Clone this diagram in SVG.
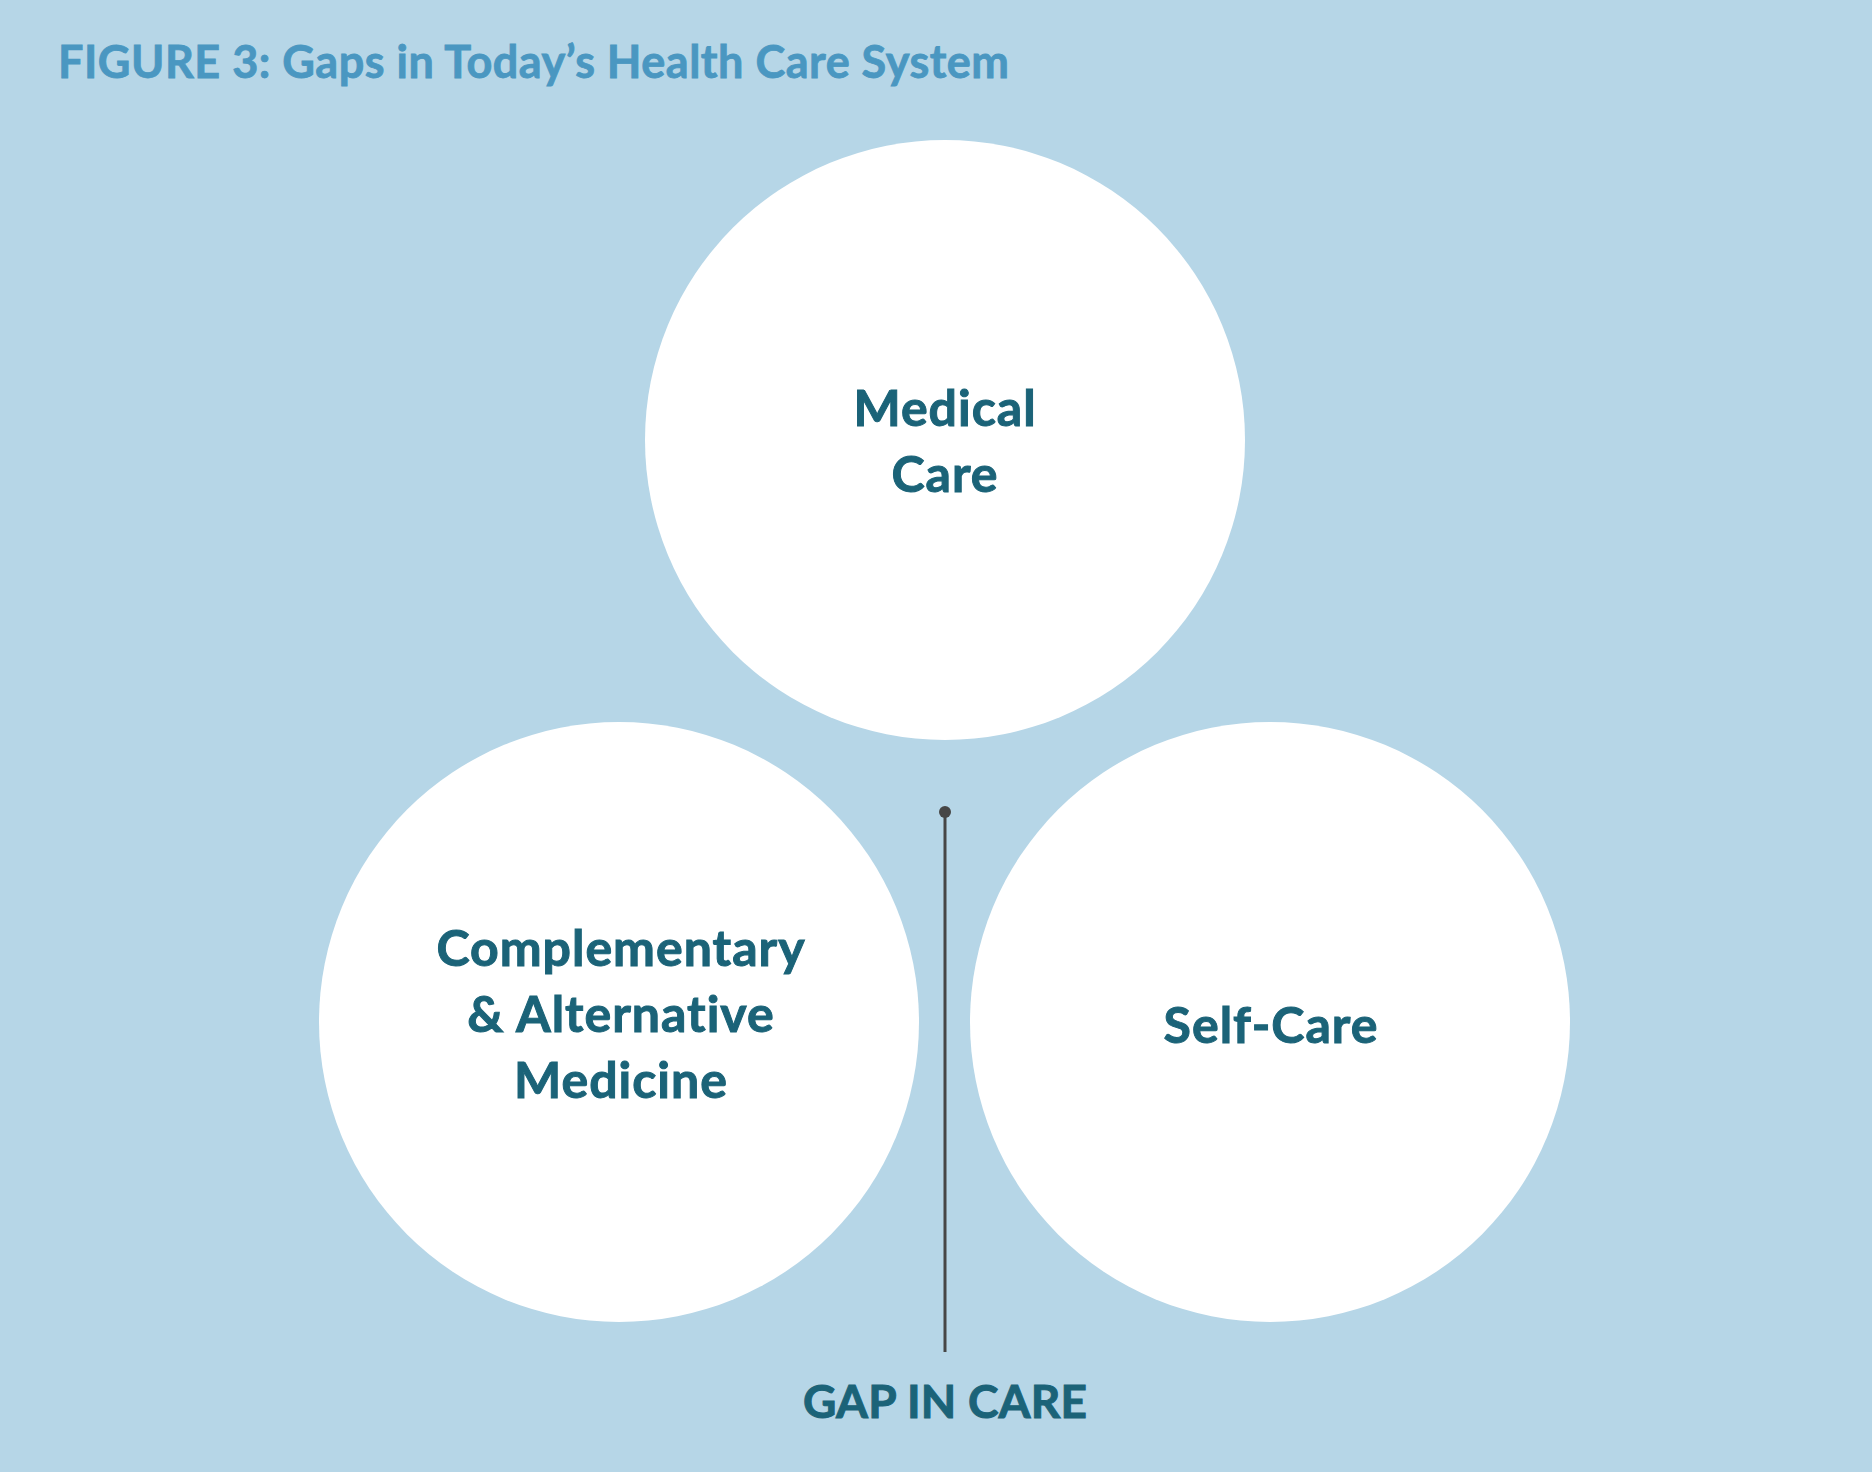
<svg xmlns="http://www.w3.org/2000/svg" width="1872" height="1472" viewBox="0 0 1872 1472">
<style>
.bg{fill:#b6d6e7}
.circ{fill:#ffffff}
.lbl{font-family:Lato,"Liberation Sans",sans-serif;font-weight:700;fill:#1b6378;stroke:#1b6378;stroke-width:1;text-anchor:middle;font-size:50px;letter-spacing:1px}
.gap{font-family:Lato,"Liberation Sans",sans-serif;font-weight:700;fill:#1b6378;stroke:#1b6378;stroke-width:1;text-anchor:middle;font-size:46px;letter-spacing:0.2px}
.ttl{font-family:Lato,"Liberation Sans",sans-serif;font-weight:700;fill:#4a97c1;stroke:#4a97c1;stroke-width:0.8;font-size:45px;letter-spacing:0.5px}
.conn{stroke:#464646;stroke-width:3;fill:none}
</style>
<rect class="bg" x="0" y="0" width="1872" height="1472"/>
<text class="ttl" x="58" y="78">FIGURE 3: Gaps in Today’s Health Care System</text>
<g id="medical-care">
<circle class="circ" cx="945" cy="440" r="300"/>
<text class="lbl" x="945" y="426">Medical</text>
<text class="lbl" x="945" y="492">Care</text>
</g>
<g id="cam">
<circle class="circ" cx="619" cy="1022" r="300"/>
<text class="lbl" x="621" y="966">Complementary</text>
<text class="lbl" x="621" y="1032">&amp; Alternative</text>
<text class="lbl" x="621" y="1098">Medicine</text>
</g>
<g id="self-care">
<circle class="circ" cx="1270" cy="1022" r="300"/>
<text class="lbl" x="1271" y="1043">Self-Care</text>
</g>
<g id="connectors">
<line class="conn" x1="945" y1="812" x2="945" y2="1352"/>
<circle cx="945" cy="812" r="6" fill="#464646"/>
</g>
<g id="gap-label">
<text class="gap" x="945" y="1418">GAP IN CARE</text>
</g>
</svg>
